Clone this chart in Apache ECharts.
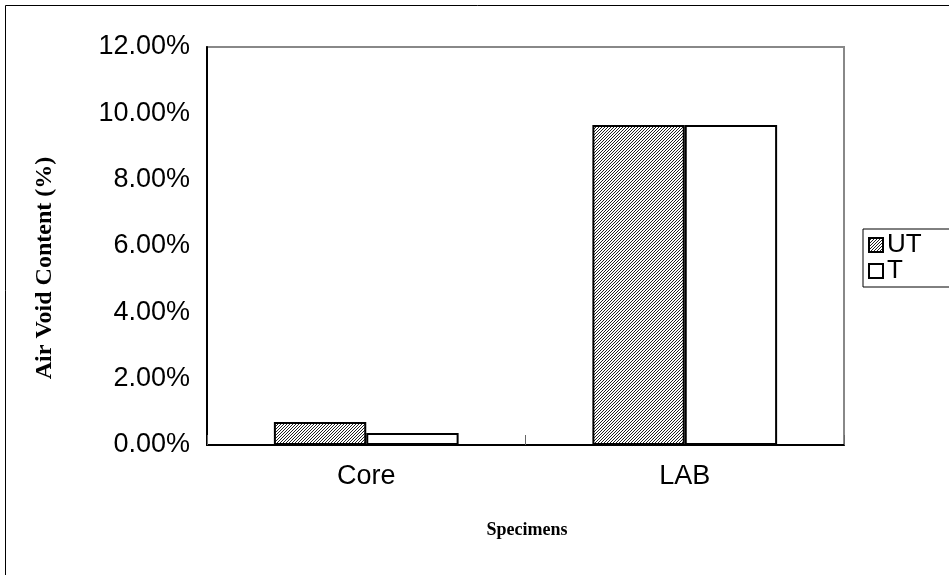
<!DOCTYPE html>
<html>
<head>
<meta charset="utf-8">
<script src="https://cdn.jsdelivr.net/npm/echarts@6/dist/echarts.min.js"></script>
<style>html,body{margin:0;padding:0;background:#fff;}#c{width:949px;height:575px;}</style>
</head>
<body>
<div id="c"></div>
<script>
const categories = ['Core', 'LAB'];
const seriesNames = ['UT', 'T'];
const utValues = [0.69, 9.65];
const tValues = [0.36, 9.65];
const yTicks = [0, 2, 4, 6, 8, 10, 12];
const xTitle = 'Specimens';
const yTitle = 'Air Void Content (%)';

function hatch() {
  const n = 3;
  const c = document.createElement('canvas');
  c.width = n; c.height = n;
  const g = c.getContext('2d');
  g.fillStyle = '#fff';
  g.fillRect(0, 0, n, n);
  g.fillStyle = '#222';
  for (let i = 0; i < n; i++) g.fillRect(i, n - 1 - i, 1, 1);
  return { image: c, repeat: 'repeat' };
}

const chart = echarts.init(document.getElementById('c'), null, { renderer: 'canvas' });
chart.setOption({
  backgroundColor: '#fff',
  animation: false,
  graphic: [
    {
      type: 'rect', z: 100, silent: true,
      shape: { x: 5.5, y: 5.5, width: 1200, height: 1200 },
      style: { fill: 'none', stroke: '#000', lineWidth: 1 }
    },
    {
      type: 'text', silent: true, x: 45, y: 268, rotation: Math.PI / 2,
      style: {
        text: yTitle, fill: '#000', align: 'center', verticalAlign: 'middle',
        font: 'bold 24px "Liberation Serif", "Times New Roman", serif'
      }
    },
    {
      type: 'text', silent: true, x: 527, y: 530,
      style: {
        text: xTitle, fill: '#000', align: 'center', verticalAlign: 'middle',
        font: 'bold 18px "Liberation Serif", "Times New Roman", serif'
      }
    }
  ],
  grid: {
    left: 207, top: 47, right: 105, bottom: 130,
    show: true, borderColor: '#888', borderWidth: 2, backgroundColor: 'transparent'
  },
  legend: {
    orient: 'vertical', left: 863, top: 229,
    data: seriesNames,
    borderColor: '#000', borderWidth: 1,
    padding: [3, 60, 3, 5],
    itemGap: 0, itemWidth: 14, itemHeight: 14,
    icon: 'rect',
    textStyle: { fontFamily: 'Liberation Sans, Arial', fontSize: 26, lineHeight: 25, color: '#000', padding: [0, 0, 0, -1] }
  },
  xAxis: {
    type: 'category',
    data: categories,
    axisLine: { lineStyle: { color: '#000', width: 2 } },
    axisTick: { show: true, inside: true, length: 10, lineStyle: { color: '#666', width: 1 } },
    axisLabel: { fontFamily: 'Liberation Sans, Arial', fontSize: 27, color: '#000', margin: 18 },
    splitLine: { show: false }
  },
  yAxis: {
    type: 'value',
    min: 0, max: 12, interval: 2,
    axisLine: { show: true, lineStyle: { color: '#000', width: 2 } },
    axisTick: { show: false },
    axisLabel: {
      fontFamily: 'Liberation Sans, Arial', fontSize: 27, color: '#000', margin: 17,
      formatter: v => yTicks.indexOf(v) >= 0 ? v.toFixed(2) + '%' : ''
    },
    splitLine: { show: false }
  },
  series: [
    {
      name: seriesNames[0], type: 'bar', data: utValues,
      barGap: 0, barCategoryGap: '42%',
      itemStyle: { color: hatch(), borderColor: '#000', borderWidth: 2 }
    },
    {
      name: seriesNames[1], type: 'bar', data: tValues,
      barGap: 0, barCategoryGap: '42%',
      itemStyle: { color: '#fff', borderColor: '#000', borderWidth: 2 }
    }
  ]
});
</script>
</body>
</html>
